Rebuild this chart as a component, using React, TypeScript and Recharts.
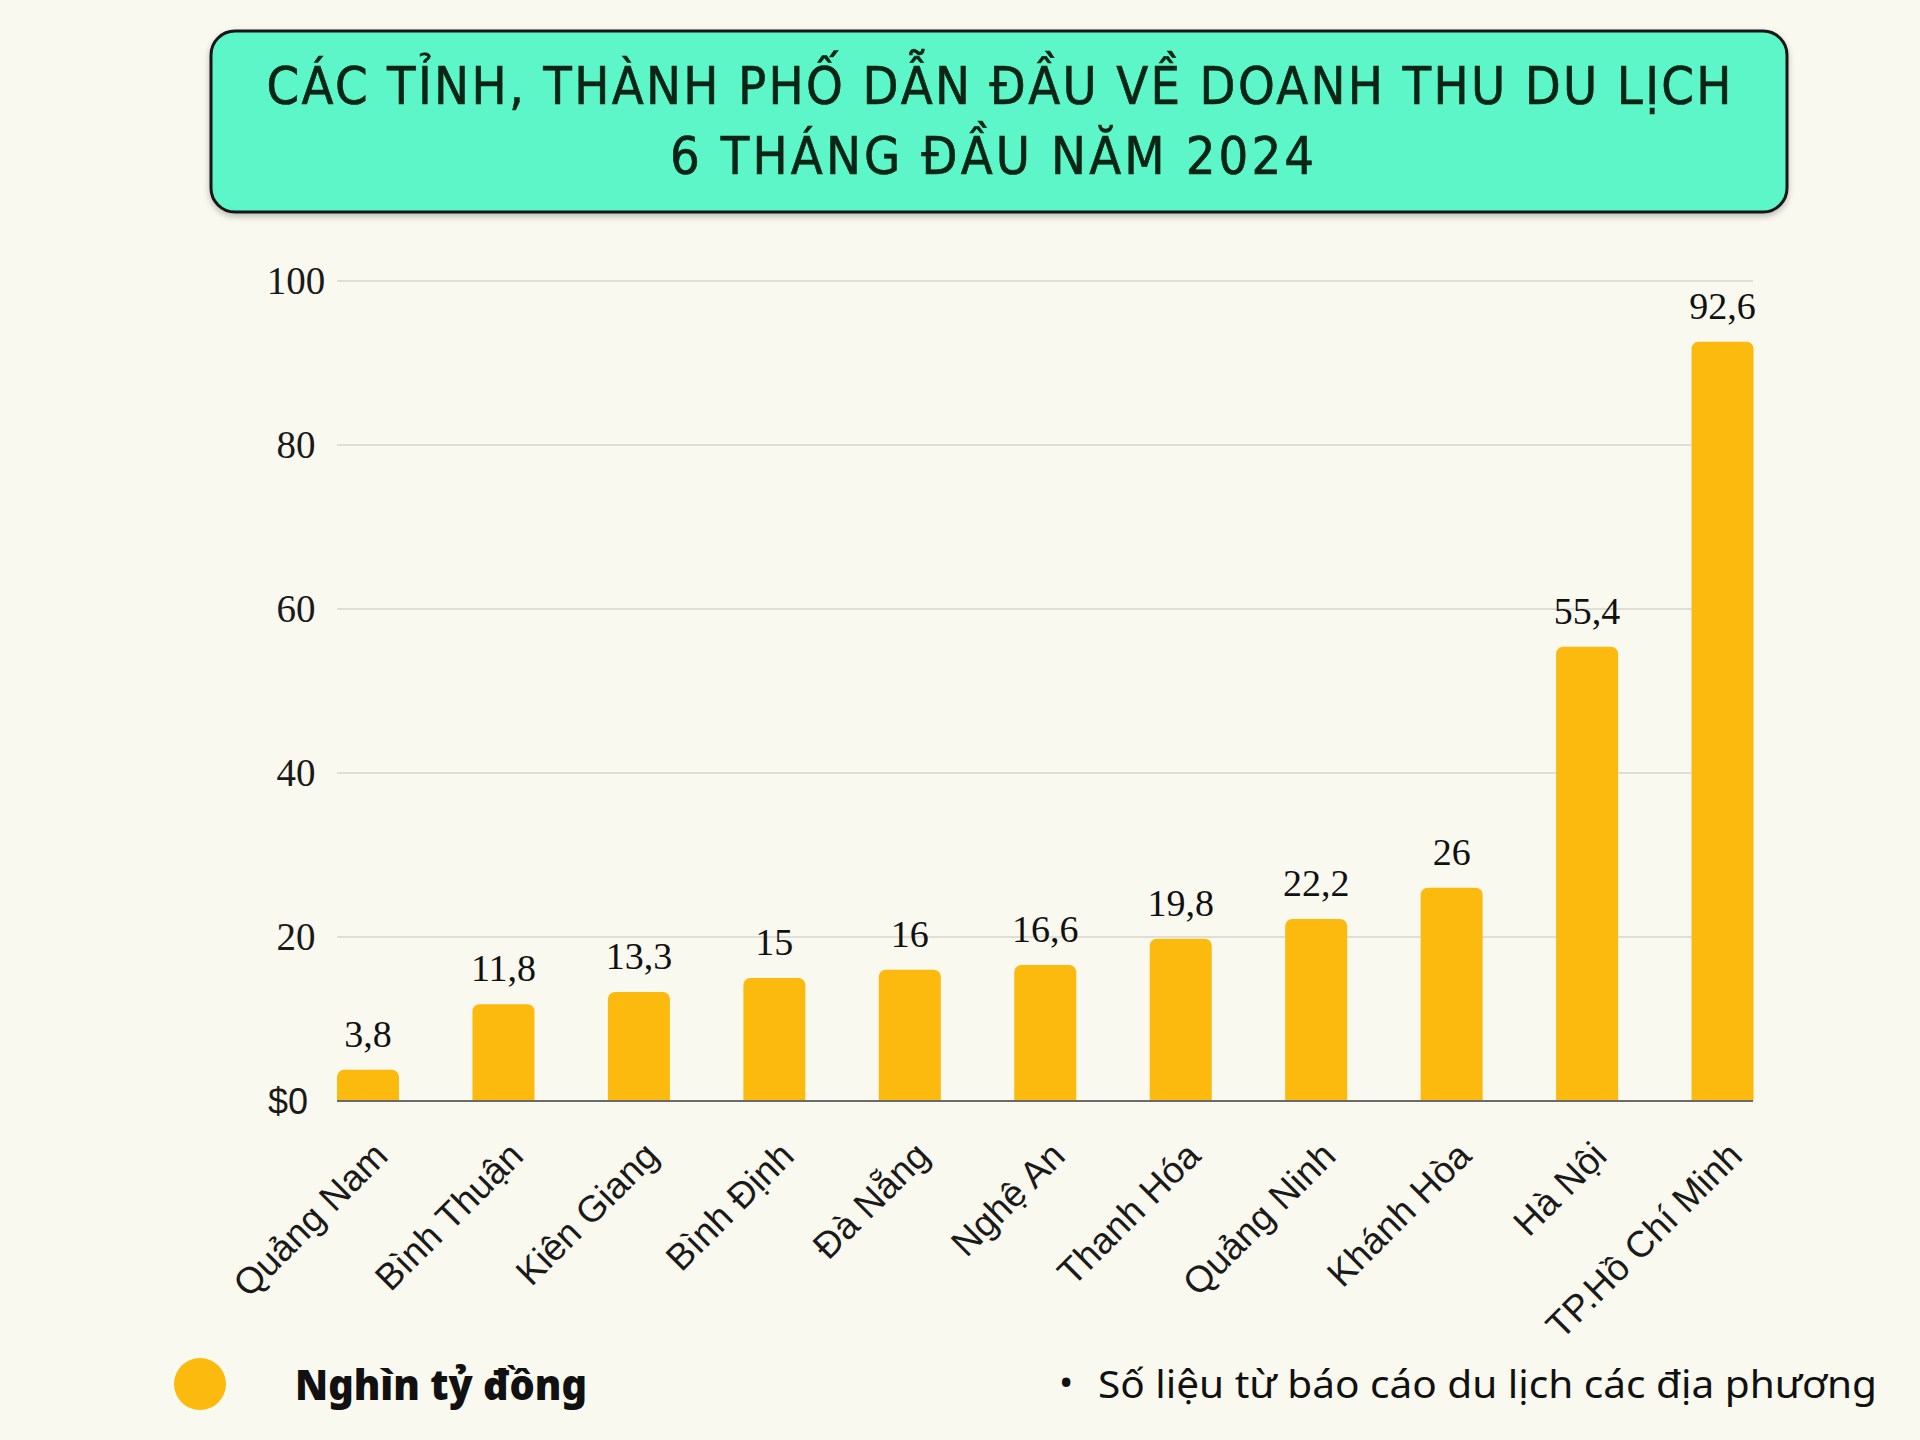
import React from 'react';
import { BarChart, Bar, XAxis, YAxis, CartesianGrid, LabelList } from 'recharts';

const categories = ['Quảng Nam', 'Bình Thuận', 'Kiên Giang', 'Bình Định', 'Đà Nẵng', 'Nghệ An', 'Thanh Hóa', 'Quảng Ninh', 'Khánh Hòa', 'Hà Nội', 'TP.Hồ Chí Minh'];
const values = [3.8, 11.8, 13.3, 15, 16, 16.6, 19.8, 22.2, 26, 55.4, 92.6];
const yTicks = [0, 20, 40, 60, 80, 100];
const titleLines = ['CÁC TỈNH, THÀNH PHỐ DẪN ĐẦU VỀ DOANH THU DU LỊCH', '6 THÁNG ĐẦU NĂM 2024'];
const legendLabel = 'Nghìn tỷ đồng';
const footnoteBullet = '•';
const footnote = 'Số liệu từ báo cáo du lịch các địa phương';

const data = categories.map((name, i) => ({ name, value: values[i] }));

const BG = '#FAF9EF';
const BAR = '#FDBA0E';
const SERIF = "'Liberation Serif', 'Times New Roman', serif";
const SANS = "'Liberation Sans', Arial, sans-serif";
const TITLE_FONT = "'Liberation Sans Narrow', 'DejaVu Sans Condensed', 'Liberation Sans', sans-serif";

const fmt = (v: number) => String(v).replace('.', ',');

const YTick = (props: any) => {
  const { x, y, payload } = props;
  const isZero = payload.value === 0;
  return (
    <text
      x={isZero ? x - 41 : x - 33}
      y={y}
      dy={13}
      textAnchor="middle"
      fontFamily={isZero ? SANS : SERIF}
      fontSize={isZero ? 36 : 39}
      fill="#1a1a1a"
    >
      {isZero ? '$0' : String(payload.value)}
    </text>
  );
};

const XTick = (props: any) => {
  const { x, y, payload } = props;
  return (
    <g transform={`translate(${x + 22},${y + 49})`}>
      <text
        x={0}
        y={0}
        textAnchor="end"
        transform="rotate(-45)"
        fontFamily={SANS}
        fontSize={37}
        fill="#1a1a1a"
      >
        {payload.value}
      </text>
    </g>
  );
};

const ValueLabel = (props: any) => {
  const { x, y, width, value } = props;
  return (
    <text x={x + width / 2} y={y - 23} textAnchor="middle" fontFamily={SERIF} fontSize={38} fill="#111">
      {fmt(value)}
    </text>
  );
};

export default function App() {
  return (
    <div style={{ position: 'absolute', left: 0, top: 0, width: 1920, height: 1440, background: BG, overflow: 'hidden' }}>
      <div style={{ position: 'absolute', left: 0, top: 0 }}>
        <BarChart
          width={1920}
          height={1440}
          data={data}
          margin={{ top: 281, right: 167, bottom: 139, left: 257 }}
        >
          <CartesianGrid vertical={false} stroke="#D9D6CC" strokeWidth={1.5} />
          <YAxis
            width={80}
            domain={[0, 100]}
            ticks={yTicks}
            axisLine={false}
            tickLine={false}
            tick={<YTick />}
            interval={0}
          />
          <XAxis
            dataKey="name"
            interval={0}
            tickLine={false}
            axisLine={{ stroke: '#6b6b6b', strokeWidth: 2 }}
            padding={{ left: -37, right: -37 }}
            height={200}
            tick={<XTick />}
          />
          <Bar dataKey="value" fill={BAR} barSize={62} radius={[7, 7, 0, 0]} isAnimationActive={false}>
            <LabelList dataKey="value" content={<ValueLabel />} />
          </Bar>
        </BarChart>
      </div>
      <svg width={1920} height={1440} style={{ position: 'absolute', left: 0, top: 0, pointerEvents: 'none' }}>
        <defs>
          <filter id="sh" x="-5%" y="-20%" width="110%" height="140%">
            <feDropShadow dx="0" dy="3" stdDeviation="3" floodColor="#000" floodOpacity="0.25" />
          </filter>
        </defs>
        <rect x={211} y={31} width={1576} height={181} rx={24} ry={24} fill="#5DF6C8" stroke="#151515" strokeWidth={3} filter="url(#sh)" />
        <text
          x={999}
          y={104}
          textAnchor="middle"
          fontFamily={TITLE_FONT}
          fontSize={52}
          fill="#0B2414"
          stroke="#0B2414"
          strokeWidth={0.6}
          textLength={1465}
          lengthAdjust="spacing"
        >
          {titleLines[0]}
        </text>
        <text
          x={992}
          y={174}
          textAnchor="middle"
          fontFamily={TITLE_FONT}
          fontSize={52}
          fill="#0B2414"
          stroke="#0B2414"
          strokeWidth={0.6}
          textLength={644}
          lengthAdjust="spacing"
        >
          {titleLines[1]}
        </text>
        <circle cx={200} cy={1384} r={26} fill={BAR} />
        <text x={295} y={1400} fontFamily="'Noto Sans', Lato, sans-serif" fontWeight={900} fontSize={42} fill="#111" textLength={292} lengthAdjust="spacingAndGlyphs">
          {legendLabel}
        </text>
        <text x={1059} y={1396} fontFamily="'Noto Sans', Lato, sans-serif" fontSize={38} fill="#111">
          {footnoteBullet}
        </text>
        <text x={1098} y={1398} fontFamily="'Noto Sans', Lato, sans-serif" fontSize={38} fill="#111" textLength={779} lengthAdjust="spacingAndGlyphs">
          {footnote}
        </text>
      </svg>
    </div>
  );
}
